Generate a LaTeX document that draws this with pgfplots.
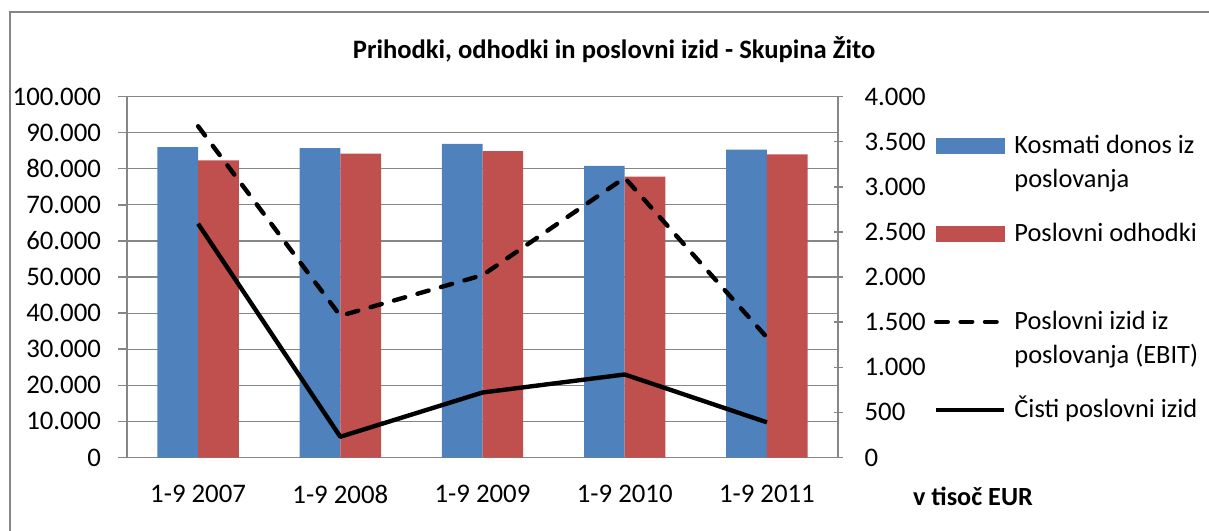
\documentclass[border=0pt]{standalone}
\usepackage{fontspec}
\setmainfont{Carlito}
\usepackage{pgfplots}
\usepackage{pgfplotstable}
\pgfplotsset{compat=1.18}
\definecolor{barblue}{RGB}{79,129,189}
\definecolor{barred}{RGB}{192,80,77}
\definecolor{gridgray}{RGB}{134,134,134}
\pgfplotsset{linelegend/.style={legend image code/.code={\draw[##1] (0pt,17pt) -- (34pt,17pt);}}}

\pgfplotstableread{
x kosmati odhodki ebit cisti
0 86000 82300 3670 2590
1 85700 84200 1570 230
2 86900 84900 2020 720
3 80800 77800 3100 920
4 85300 84000 1330 390
}\data

\begin{document}
\begin{tikzpicture}
\path[use as bounding box] (-63.5pt,-36.65pt) rectangle (541pt,228.75pt);
\draw[gridgray, line width=0.75pt] (-58.5pt,-40pt) -- (-58.5pt,222.75pt) -- (545pt,222.75pt);
\pgfplotsset{every axis/.append style={
  scale only axis, width=355.5pt, height=180.5pt, at={(0pt,0pt)}, anchor=south west,
  xmin=-0.5, xmax=4.5,
  tick label style={font=\fontsize{13.4}{16}\selectfont},
  /pgf/number format/fixed,
  /pgf/number format/precision=0,
  /pgf/number format/1000 sep={.},
  /pgf/number format/assume math mode=true,
  axis line style={gridgray, line width=0.75pt, -},
  major tick length=4.5pt,
  tick style={gridgray, line width=0.75pt},
}}
\begin{axis}[
  ybar=0pt, bar width=20.35pt,
  ymin=0, ymax=100000,
  ytick={0,10000,...,100000},
  scaled y ticks=false,
  xtick={0,...,4},
  xticklabels={1-9 2007,1-9 2008,1-9 2009,1-9 2010,1-9 2011},
  axis x line*=bottom, axis y line*=left,
  ymajorgrids, grid style={gridgray, line width=0.6pt},
  tick align=outside,
  xtick style={draw=none},
  yticklabel style={xshift=-5pt},
  xticklabel style={yshift=-6pt},
]
\addplot[fill=barblue, draw=none] table[x=x, y=kosmati] {\data};
\addplot[fill=barred, draw=none] table[x=x, y=odhodki] {\data};
\end{axis}
\begin{axis}[
  ymin=0, ymax=4000,
  ytick={0,500,...,4000},
  scaled y ticks=false,
  axis y line*=right, axis x line=none,
  tick align=center,
  yticklabel style={xshift=7.5pt},
  legend style={at={(axis description cs:1.1350,0.8911)}, anchor=north west,
    draw=none, fill=none, inner sep=0pt, outer sep=0pt, row sep=0pt, column sep=4pt,
    nodes={inner sep=0pt, text height=9pt, text depth=35pt, font=\fontsize{13.2}{17}\selectfont}},
  legend cell align=left,
]
\addlegendimage{legend image code/.code={\fill[barblue] (0pt,13.25pt) rectangle (34pt,20.75pt);}}
\addlegendentry{\vtop{\baselineskip=17pt\hbox{Kosmati donos iz}\hbox{poslovanja}}}
\addlegendimage{legend image code/.code={\fill[barred] (0pt,13.25pt) rectangle (34pt,20.75pt);}}
\addlegendentry{Poslovni odhodki}
\addplot[black, line width=2.2pt, dash pattern=on 5.8pt off 6.4pt, line cap=round, linelegend]
  table[x=x, y=ebit] {\data};
\addlegendentry{\vtop{\baselineskip=17pt\hbox{Poslovni izid iz}\hbox{poslovanja (EBIT)}}}
\addplot[black, line width=2.2pt, line join=round, linelegend]
  table[x=x, y=cisti] {\data};
\addlegendentry{Čisti poslovni izid}
\end{axis}
\node[font=\bfseries\fontsize{13.3}{16}\selectfont] at (243.5pt,203.75pt) {Prihodki, odhodki in poslovni izid - Skupina Žito};
\node[font=\bfseries\fontsize{13.1}{15}\selectfont] at (423pt,-19.4pt) {v tisoč EUR};
\end{tikzpicture}
\end{document}
